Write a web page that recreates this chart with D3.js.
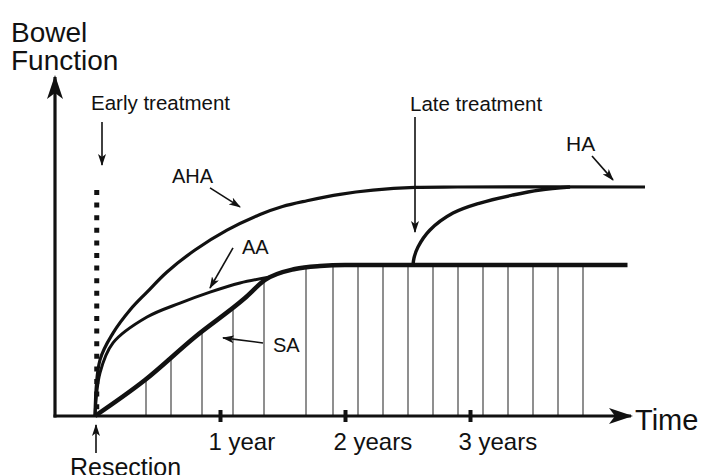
<!DOCTYPE html>
<html>
<head>
<meta charset="utf-8">
<script src="https://cdn.jsdelivr.net/npm/d3@7"></script>
<style>
  body { margin: 0; background: #fff; }
  text { font-family: "Liberation Sans", Arial, sans-serif; fill: #111; }
</style>
</head>
<body>
<svg id="chart" width="701" height="475"></svg>
<script>
// time in years after resection, bowel function in % of normal
const saT = [0, 0.4, 0.8, 1.2, 1.36, 1.6, 1.8, 2.0, 4.26];
const saV = [0, 15.7, 34.5, 51.5, 59.4, 64.2, 65.5, 65.9, 65.9];

const aaT = [0, 0.04, 0.144, 0.416, 0.68, 0.92, 1.16, 1.4];
const aaV = [0, 18.8, 31.9, 43.2, 49.3, 54.1, 58.1, 60.7];

const ahaT = [0, 0.04, 0.144, 0.28, 0.416, 0.576, 0.8, 1.056, 1.32, 1.5, 1.696, 1.96, 2.224, 2.56, 2.9, 4.4];
const ahaV = [0, 24.5, 36.2, 46.3, 54.1, 62.9, 72.5, 81.2, 88, 91.5, 94, 96.8, 98.6, 99.8, 100, 100];

const lateT = [2.544, 2.552, 2.584, 2.68, 2.864, 3.08, 3.344, 3.56, 3.8];
const lateV = [65.9, 69, 73.8, 81.2, 88.6, 93, 96.5, 98.7, 100];

const hatchT = [0.408, 0.608, 0.856, 1.104, 1.352, 1.688, 1.904, 2.104, 2.304, 2.504,
                2.704, 2.904, 3.104, 3.304, 3.504, 3.704, 3.904];

const tickYears = [1, 2, 3];
const tickLabels = ["1 year", "2 years", "3 years"];

const earlyT = 0.014, earlyTop = 98.7;

// annotation arrows [t1, v1, t2, v2] (tip at the second point)
const arrows = [
  [0.056, 128.4, 0.056, 109.6],   // early treatment
  [0.92, 99.6, 1.16, 91.3],       // AHA
  [1.104, 73.4, 0.92, 55.9],      // AA
  [1.344, 31.9, 1.024, 34.1],     // SA
  [2.56, 130.6, 2.56, 80.3],      // late treatment
  [3.976, 113.5, 4.144, 103.1],   // HA
  [0.008, -16.2, 0.008, -3.9]     // resection
];

const svg = d3.select("#chart");

const x = d3.scaleLinear().domain([0, 1]).range([95, 220]);
const y = d3.scaleLinear().domain([0, 100]).range([416, 187]);

const defs = svg.append("defs");

defs.append("marker")
    .attr("id", "small")
    .attr("markerUnits", "userSpaceOnUse")
    .attr("viewBox", "0 0 12 8")
    .attr("refX", 11).attr("refY", 4)
    .attr("markerWidth", 12).attr("markerHeight", 8)
    .attr("orient", "auto")
  .append("path")
    .attr("d", "M0,0 L12,4 L0,8 L3,4 Z")
    .attr("fill", "#111");

defs.append("marker")
    .attr("id", "big")
    .attr("markerUnits", "userSpaceOnUse")
    .attr("viewBox", "0 0 24 18")
    .attr("refX", 22).attr("refY", 9)
    .attr("markerWidth", 24).attr("markerHeight", 18)
    .attr("orient", "auto")
  .append("path")
    .attr("d", "M0,1 L24,9 L0,17 L6,9 Z")
    .attr("fill", "#111");

const zip = (ts, vs) => ts.map((t, i) => [t, vs[i]]);

const line = d3.line()
    .x(d => x(d[0]))
    .y(d => y(d[1]))
    .curve(d3.curveMonotoneX);

const smooth = d3.line()
    .x(d => x(d[0]))
    .y(d => y(d[1]))
    .curve(d3.curveCatmullRom.alpha(0.5));

// hatching under SA, clipped by the SA area
defs.append("clipPath")
    .attr("id", "saClip")
  .append("path")
    .attr("d", d3.area()
      .x(d => x(d[0]))
      .y0(y(0))
      .y1(d => y(d[1]))
      .curve(d3.curveMonotoneX)(zip(saT, saV)));

svg.append("g")
    .attr("clip-path", "url(#saClip)")
  .selectAll("line")
  .data(hatchT)
  .join("line")
    .attr("x1", d => x(d)).attr("x2", d => x(d))
    .attr("y1", y(0)).attr("y2", y(120))
    .attr("stroke", "#333")
    .attr("stroke-width", 1.1);

// axes
svg.append("line")
    .attr("x1", 55).attr("y1", y(0) + 1.5)
    .attr("x2", 55).attr("y2", 77)
    .attr("stroke", "#111").attr("stroke-width", 3.2)
    .attr("marker-end", "url(#big)");

svg.append("line")
    .attr("x1", 53.5).attr("y1", y(0))
    .attr("x2", 631).attr("y2", y(0))
    .attr("stroke", "#111").attr("stroke-width", 3.2)
    .attr("marker-end", "url(#big)");

const xAxis = svg.append("g")
    .attr("transform", `translate(0,${y(0)})`)
    .call(d3.axisBottom(x)
      .tickValues(tickYears)
      .tickFormat((d, i) => tickLabels[i])
      .tickSize(6));

xAxis.select(".domain").remove();
xAxis.selectAll(".tick line")
    .attr("y1", -6).attr("y2", 6)
    .attr("stroke", "#111").attr("stroke-width", 4);
xAxis.selectAll(".tick text")
    .attr("y", 17)
    .attr("dy", "0.71em")
    .attr("text-anchor", "start")
    .attr("dx", -12)
    .attr("font-size", 24)
    .attr("font-family", "Liberation Sans, Arial, sans-serif")
    .attr("fill", "#111");

// early treatment dotted line
svg.append("line")
    .attr("x1", x(earlyT)).attr("x2", x(earlyT))
    .attr("y1", y(earlyTop)).attr("y2", y(0))
    .attr("stroke", "#111")
    .attr("stroke-width", 5)
    .attr("stroke-dasharray", "5 7.6");

// curves
svg.append("path")
    .attr("d", smooth(zip(ahaT, ahaV)))
    .attr("fill", "none").attr("stroke", "#111").attr("stroke-width", 3.2);

svg.append("path")
    .attr("d", smooth(zip(aaT, aaV)))
    .attr("fill", "none").attr("stroke", "#111").attr("stroke-width", 3);

svg.append("path")
    .attr("d", smooth(zip(lateT, lateV)))
    .attr("fill", "none").attr("stroke", "#111").attr("stroke-width", 3.4);

svg.append("path")
    .attr("d", line(zip(saT, saV)))
    .attr("fill", "none").attr("stroke", "#111").attr("stroke-width", 4.5);

// annotation arrows
svg.append("g")
  .selectAll("line")
  .data(arrows)
  .join("line")
    .attr("x1", d => x(d[0])).attr("y1", d => y(d[1]))
    .attr("x2", d => x(d[2])).attr("y2", d => y(d[3]))
    .attr("stroke", "#111").attr("stroke-width", 1.6)
    .attr("marker-end", "url(#small)");

// texts
const labels = [
  ["Bowel", 11, 42, 28],
  ["Function", 11, 70, 28],
  ["Early treatment", 91, 110, 20.5],
  ["Late treatment", 410, 111, 20.5],
  ["AHA", 172, 183, 20],
  ["AA", 242, 254, 20],
  ["SA", 273, 352, 20],
  ["HA", 566, 151, 21],
  ["Time", 635, 430, 29],
  ["Resection", 70, 476, 25]
];

svg.append("g")
  .selectAll("text")
  .data(labels)
  .join("text")
    .attr("x", d => d[1])
    .attr("y", d => d[2])
    .attr("font-size", d => d[3])
    .text(d => d[0]);
</script>
</body>
</html>
